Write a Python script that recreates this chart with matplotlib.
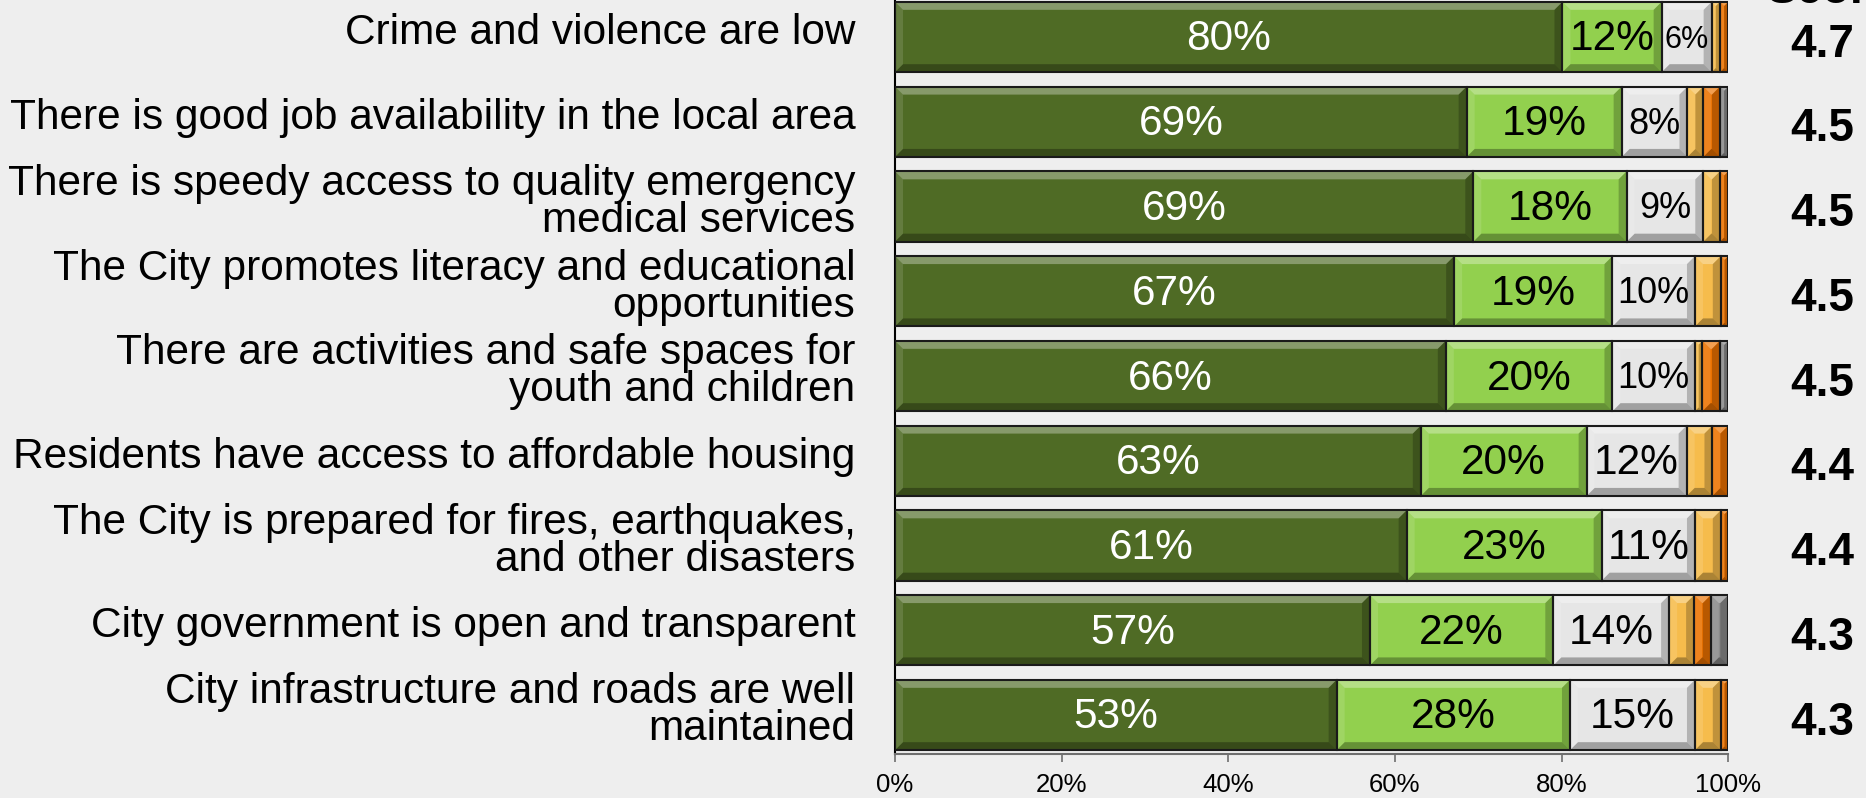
import matplotlib
matplotlib.use("Agg")
import matplotlib.pyplot as plt
from matplotlib.patches import Polygon
import numpy as np

plt.rcParams['font.family'] = ['Liberation Sans', 'DejaVu Sans']

categories = [
    "Crime and violence are low",
    "There is good job availability in the local area",
    "There is speedy access to quality emergency\nmedical services",
    "The City promotes literacy and educational\nopportunities",
    "There are activities and safe spaces for\nyouth and children",
    "Residents have access to affordable housing",
    "The City is prepared for fires, earthquakes,\nand other disasters",
    "City government is open and transparent",
    "City infrastructure and roads are well\nmaintained",
]
seg_dark = [80.1, 68.6, 69.4, 67.1, 66.1, 63.1, 61.4, 57.0, 53.0]
seg_light = [11.9, 18.6, 18.4, 19.0, 20.0, 19.9, 23.4, 22.0, 28.0]
seg_white = [6.0, 7.9, 9.2, 9.9, 9.9, 12.0, 11.2, 13.9, 15.0]
seg_yellow = [1.0, 1.9, 2.0, 3.1, 0.9, 3.1, 3.1, 3.0, 3.1]
seg_orange = [1.0, 2.0, 1.0, 0.9, 2.1, 1.9, 0.9, 2.0, 0.9]
seg_gray = [0.0, 1.0, 0.0, 0.0, 1.0, 0.0, 0.0, 2.1, 0.0]
scores = ["4.7", "4.5", "4.5", "4.5", "4.5", "4.4", "4.4", "4.3", "4.3"]
xticks = [0, 20, 40, 60, 80, 100]

series = [seg_dark, seg_light, seg_white, seg_yellow, seg_orange, seg_gray]
colors = ['#4F6B25', '#92D04E', '#E6E6E6', '#F6BC4C', '#EC7200', '#8A8A8A']
label_colors = ['white', 'black', 'black', None, None, None]

W, H = 1866, 798
fig = plt.figure(figsize=(W / 100, H / 100), dpi=100)
bg = '#EEEEEE'
fig.patch.set_facecolor(bg)

axis_px = 754
ax_left, ax_right = 895 / W, 1728.3 / W
ax_bot = (H - axis_px) / H
ax = fig.add_axes([ax_left, ax_bot, ax_right - ax_left, 1 - ax_bot])
ax.set_facecolor(bg)

n = len(categories)
y = np.arange(n)
ylim_bottom = (n - 1) + (axis_px - 715) / 84.75
ylim_top = -37 / 84.75
ax.set_xlim(0, 100)
ax.set_ylim(ylim_bottom, ylim_top)

bar_h = 0.83
left = np.zeros(n)
containers = []
for vals, col in zip(series, colors):
    vals = np.array(vals)
    bc = ax.barh(y, vals, left=left, height=bar_h, color=col, edgecolor='none', zorder=2)
    containers.append((bc, vals, left.copy()))
    left = left + vals

# bevel overlays
inv = ax.transData.inverted()
bev_px = 8
for bc, vals, lefts in containers:
    for rect, v in zip(bc.patches, vals):
        if v <= 0:
            continue
        x0, y0 = rect.get_x(), rect.get_y()
        x1, y1 = x0 + rect.get_width(), y0 + rect.get_height()
        (X0, Y0), (X1, Y1) = ax.transData.transform([(x0, y0), (x1, y1)])
        L, R = min(X0, X1), max(X0, X1)
        B, T = min(Y0, Y1), max(Y0, Y1)
        b = min(bev_px, (R - L) / 2, (T - B) / 2)
        polys = [
            ([(L, T), (R, T), (R - b, T - b), (L + b, T - b)], 'white', 0.32),
            ([(L, B), (R, B), (R - b, B + b), (L + b, B + b)], 'black', 0.30),
            ([(L, B), (L, T), (L + b, T - b), (L + b, B + b)], 'white', 0.12),
            ([(R, B), (R, T), (R - b, T - b), (R - b, B + b)], 'black', 0.22),
        ]
        for pts, c, a in polys:
            ax.add_patch(Polygon(inv.transform(pts), closed=True, facecolor=c,
                                 alpha=a, edgecolor='none', zorder=3))

# outlines
left = np.zeros(n)
for vals in series:
    vals = np.array(vals)
    mask = vals > 0
    ax.barh(y[mask], vals[mask], left=left[mask], height=bar_h, fill=False,
            edgecolor='#1A1A1A', linewidth=1.5, zorder=4)
    left = left + vals

# percentage labels
for (bc, vals, lefts), lc in zip(containers, label_colors):
    if lc is None:
        continue
    for i, (v, l0) in enumerate(zip(vals, lefts)):
        if v < 7:
            fs = 22
        elif v < 10.5:
            fs = 26
        else:
            fs = 30.5
        ax.annotate(f"{round(v):d}%", xy=(l0 + v / 2, i), xytext=(0, -1.8),
                    textcoords='offset points', ha='center', va='center',
                    fontsize=fs, color=lc, zorder=5)

# category labels
for i, c in enumerate(categories):
    ax.annotate(c, xy=(0, i), xytext=(-28.5, 3), textcoords='offset points',
                ha='right', va='center', multialignment='right', fontsize=30.5,
                linespacing=0.9, color='black', annotation_clip=False)

# scores
score_x = (1822 - 895) / 8.333
for i, s in enumerate(scores):
    ax.annotate(s, xy=(score_x, i), xytext=(0, -5.5), textcoords='offset points',
                ha='center', va='center', fontsize=33, fontweight='bold',
                color='black', annotation_clip=False)
fig.text(1830 / W, 1 - 3 / H, "Score", ha='center', va='baseline', fontsize=33,
         fontweight='bold', color='black')

# axes styling
for s in ['top', 'right']:
    ax.spines[s].set_visible(False)
ax.spines['left'].set_color('black')
ax.spines['left'].set_linewidth(1.5)
ax.spines['bottom'].set_color('#6E6E6E')
ax.spines['bottom'].set_linewidth(1.5)
ax.set_yticks([])
ax.set_xticks(xticks)
ax.set_xticklabels([f"{t}%" for t in xticks])
ax.tick_params(axis='x', direction='out', length=6, width=1.2, color='#6E6E6E',
               labelsize=18.5, pad=8, labelcolor='black')

fig.savefig('out.png', dpi=100, facecolor=bg)
